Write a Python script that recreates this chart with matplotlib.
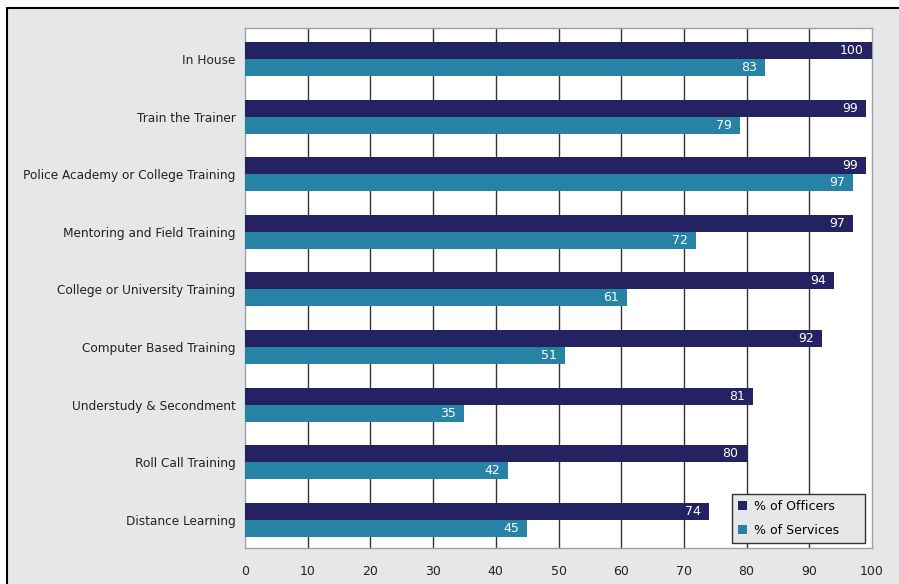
import matplotlib
matplotlib.use("Agg")
import matplotlib.pyplot as plt
from matplotlib.patches import Rectangle
import numpy as np

categories = ["In House", "Train the Trainer", "Police Academy or College Training",
              "Mentoring and Field Training", "College or University Training",
              "Computer Based Training", "Understudy & Secondment", "Roll Call Training",
              "Distance Learning"]
officers = [100, 99, 99, 97, 94, 92, 81, 80, 74]
services = [83, 79, 97, 72, 61, 51, 35, 42, 45]
xticks = [0, 10, 20, 30, 40, 50, 60, 70, 80, 90, 100]

C_OFF = "#252262"
C_SER = "#2683a6"
BG = "#e6e7e9"
FS = 9

plt.rcParams['font.family'] = ['DejaVu Sans']
fig = plt.figure(figsize=(8.99, 5.84), dpi=100)
fig.patch.set_facecolor("white")
fig.add_artist(Rectangle((7/899, -0.2), 1.2, 0.2 + 1 - 8/584, transform=fig.transFigure,
                         facecolor=BG, edgecolor="black", lw=1.5, zorder=0))

ax = fig.add_axes([245/899, 1 - 548/584, (872-245)/899, (548-28)/584])
ax.set_facecolor("white")
y = np.arange(len(categories))
h = 0.295
ax.barh(y - h/2, officers, height=h, color=C_OFF, label="% of Officers", zorder=3)
ax.barh(y + h/2, services, height=h, color=C_SER, label="% of Services", zorder=3)
for yi, v in zip(y, officers):
    ax.text(v - 1.3, yi - h/2, str(v), color="white", ha="right", va="center", fontsize=FS, zorder=4)
for yi, v in zip(y, services):
    ax.text(v - 1.3, yi + h/2, str(v), color="white", ha="right", va="center", fontsize=FS, zorder=4)

ax.set_xlim(0, 100)
ax.set_ylim(8.49, -0.54)
ax.set_xticks(xticks)
ax.set_xticklabels([str(t) for t in xticks], fontsize=FS, color="#222222")
ax.set_yticks(y)
ax.set_yticklabels(categories, fontsize=8.75, color="#222222")
ax.tick_params(length=0)
ax.tick_params(axis='y', pad=7)
ax.tick_params(axis='x', pad=12)
for xt in xticks[1:-1]:
    ax.axvline(xt, color="#333333", lw=1, zorder=1)
for s in ax.spines.values():
    s.set_color("#a0a0a0")
    s.set_linewidth(1)

leg = ax.legend(loc="lower left", bbox_to_anchor=(732/899, 1 - 543/584, 133/899, 49/584),
                bbox_transform=fig.transFigure, mode="expand",
                borderaxespad=0, frameon=True, fancybox=False, fontsize=FS,
                handlelength=0.75, handleheight=0.75,
                labelspacing=0.92, borderpad=0.48, handletextpad=0.5)
leg.get_frame().set_facecolor(BG)
leg.get_frame().set_edgecolor("#333333")
leg.get_frame().set_alpha(1)
leg.set_zorder(5)

fig.savefig("out.png", dpi=100)
